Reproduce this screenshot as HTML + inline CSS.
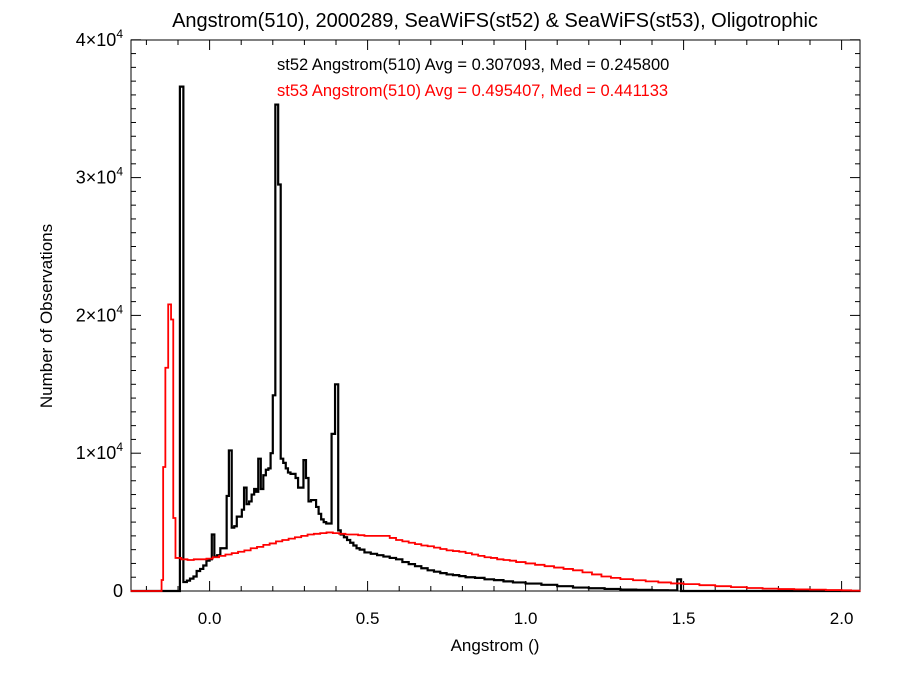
<!DOCTYPE html>
<html><head><meta charset="utf-8">
<style>
html,body{margin:0;padding:0;background:#fff;}
svg text{font-family:"Liberation Sans",Helvetica,Arial,sans-serif;}
</style></head>
<body>
<svg id="chart" width="900" height="675" viewBox="0 0 900 675" xmlns="http://www.w3.org/2000/svg">
<rect width="900" height="675" fill="#fff"/>
<text x="495" y="27" font-size="20" text-anchor="middle">Angstrom(510), 2000289, SeaWiFS(st52) &amp; SeaWiFS(st53), Oligotrophic</text>
<text x="277" y="70" font-size="16.5">st52 Angstrom(510) Avg = 0.307093, Med = 0.245800</text>
<text x="277" y="96" font-size="16.5" fill="#ff0000">st53 Angstrom(510) Avg = 0.495407, Med = 0.441133</text>
<text transform="translate(52,316) rotate(-90)" font-size="17" text-anchor="middle">Number of Observations</text>
<text x="495" y="651" font-size="17" text-anchor="middle">Angstrom ()</text>
<g id="axes"></g>
<g id="series"></g>
</svg>
<script>
// ---- data (counts in thousands) ----
const blackEdges = [-0.25,-0.094,-0.083,-0.072,-0.062,-0.051,-0.041,-0.030,-0.020,-0.010,0.000,0.007,0.015,0.024,0.034,0.044,0.054,0.061,0.070,0.078,0.086,0.094,0.102,0.109,0.117,0.125,0.133,0.141,0.148,0.154,0.162,0.170,0.178,0.186,0.193,0.200,0.208,0.217,0.225,0.233,0.241,0.248,0.256,0.264,0.272,0.280,0.288,0.297,0.305,0.313,0.321,0.329,0.337,0.345,0.353,0.361,0.369,0.377,0.386,0.397,0.407,0.415,0.425,0.435,0.445,0.455,0.465,0.475,0.49,0.51,0.53,0.55,0.57,0.59,0.61,0.63,0.65,0.67,0.69,0.71,0.73,0.75,0.77,0.79,0.81,0.84,0.87,0.90,0.93,0.96,1.00,1.05,1.10,1.15,1.20,1.25,1.30,1.35,1.40,1.45,1.48,1.492,2.06];
const blackCounts = [0,36.6,0.65,0.75,0.9,1.05,1.45,1.6,1.85,2.2,2.3,4.1,2.5,2.6,3.1,3.1,6.9,10.2,4.6,4.7,5.4,5.4,5.9,7.5,6.3,6.5,7.0,7.4,7.2,9.6,7.4,8.4,8.8,8.9,10.0,14.2,35.3,29.5,9.6,9.3,8.9,8.6,8.5,8.5,8.2,7.5,7.5,9.5,8.2,6.5,6.6,6.6,6.1,5.6,5.2,5.0,4.9,4.9,11.4,15.0,4.4,4.1,3.9,3.7,3.5,3.3,3.1,3.0,2.8,2.7,2.6,2.5,2.4,2.3,2.1,1.95,1.8,1.65,1.5,1.4,1.3,1.2,1.15,1.08,1.0,0.95,0.85,0.79,0.7,0.62,0.54,0.45,0.35,0.25,0.2,0.15,0.1,0.08,0.06,0.05,0.85,0];
const redEdges = [-0.25,-0.152,-0.147,-0.140,-0.131,-0.122,-0.115,-0.108,-0.09,-0.07,-0.05,-0.03,-0.01,0.01,0.03,0.05,0.07,0.09,0.11,0.13,0.15,0.17,0.19,0.21,0.23,0.25,0.27,0.29,0.31,0.33,0.35,0.37,0.39,0.41,0.43,0.45,0.47,0.49,0.51,0.53,0.55,0.57,0.59,0.61,0.63,0.65,0.67,0.69,0.71,0.73,0.75,0.77,0.79,0.81,0.83,0.85,0.87,0.89,0.91,0.93,0.95,0.97,1.00,1.03,1.06,1.09,1.12,1.15,1.18,1.21,1.24,1.27,1.30,1.34,1.38,1.42,1.46,1.50,1.55,1.60,1.65,1.70,1.75,1.80,1.85,1.90,1.95,2.00,2.03,2.06];
const redCounts = [0,0.8,9,16.2,20.8,19.7,5.3,2.4,2.3,2.25,2.3,2.3,2.35,2.45,2.55,2.65,2.75,2.85,2.95,3.1,3.2,3.35,3.45,3.6,3.7,3.8,3.9,4.0,4.1,4.15,4.2,4.25,4.2,4.15,4.1,4.1,4.05,4.0,4.0,4.0,4.0,3.85,3.7,3.6,3.5,3.4,3.3,3.25,3.15,3.05,2.95,2.9,2.85,2.75,2.65,2.55,2.45,2.4,2.3,2.25,2.2,2.1,2.0,1.9,1.8,1.7,1.6,1.5,1.35,1.2,1.05,0.95,0.86,0.78,0.7,0.62,0.55,0.5,0.42,0.35,0.28,0.22,0.17,0.14,0.12,0.1,0.07,0.05,0.03];
const xTickValues = [0.0,0.5,1.0,1.5,2.0];
const xTickLabels = ["0.0","0.5","1.0","1.5","2.0"];
const yTickValues = [0,10,20,30,40];
const yTickExps = ["","4","4","4","4"];
const yTickMantissa = ["0","1","2","3","4"];

// ---- axes ----
const L=131,R=860,T=40,B=591;
const xScale=v=>209.6+v*316;
const yScale=v=>591-v*13.78;
const NS="http://www.w3.org/2000/svg";
const axes=document.getElementById('axes');
function mk(tag,attrs,parent){const e=document.createElementNS(NS,tag);for(const k in attrs)e.setAttribute(k,attrs[k]);parent.appendChild(e);return e;}

const frame=mk('rect',{x:L,y:T,width:R-L,height:B-T,fill:'none',stroke:'#000','stroke-width':1},axes);



for(let i=-2;i<=20;i++){
  const v=i/10, px=xScale(v);
  if(px<L||px>R) continue;
  const major=(i%5===0);
  const len=major?10:5;
  const t1=mk('line',{x1:px,x2:px,y1:B,y2:B-len,stroke:'#000','stroke-width':1},axes);
  
  
  const t2=mk('line',{x1:px,x2:px,y1:T,y2:T+len,stroke:'#000','stroke-width':1},axes);
  
  
}
xTickValues.forEach((v,i)=>{
  const t=mk('text',{x:xScale(v),y:624,'font-size':17,'text-anchor':'middle'},axes);
  t.textContent=xTickLabels[i];
  
  
});
for(let k=0;k<=40;k++){
  const py=yScale(k);
  const major=(k%10===0);
  const len=major?10:5;
  const a=mk('line',{x1:L,x2:L+len,y1:py,y2:py,stroke:'#000','stroke-width':1},axes);
  
  
  const b=mk('line',{x1:R,x2:R-len,y1:py,y2:py,stroke:'#000','stroke-width':1},axes);
  
  
}
yTickValues.forEach((v,i)=>{
  const py=yScale(v);
  const t=mk('text',{x:123,y:py+6,'font-size':18,'text-anchor':'end'},axes);
  
  
  if(yTickExps[i]===""){t.textContent=yTickMantissa[i];}
  else{
    const s1=document.createElementNS(NS,'tspan');s1.textContent=yTickMantissa[i]+"\u00d710";t.appendChild(s1);
    const s2=document.createElementNS(NS,'tspan');s2.setAttribute('dy','-8');s2.setAttribute('font-size','12');s2.textContent=yTickExps[i];t.appendChild(s2);
  }
});

// ---- series ----
const series=document.getElementById('series');
function stepPath(edges,counts){
  let d='M'+xScale(edges[0]).toFixed(2)+','+yScale(0).toFixed(2);
  for(let i=0;i<counts.length;i++){
    const x0=xScale(edges[i]), x1=xScale(edges[i+1]), y=yScale(counts[i]);
    d+=' L'+x0.toFixed(2)+','+y.toFixed(2)+' L'+x1.toFixed(2)+','+y.toFixed(2);
  }
  return d;
}
const black=mk('path',{d:stepPath(blackEdges,blackCounts),fill:'none',stroke:'#000','stroke-width':2.2,'stroke-linejoin':'miter'},series);


const red=mk('path',{d:stepPath(redEdges,redCounts),fill:'none',stroke:'#ff0000','stroke-width':1.8,'stroke-linejoin':'miter'},series);


</script>
</body></html>
